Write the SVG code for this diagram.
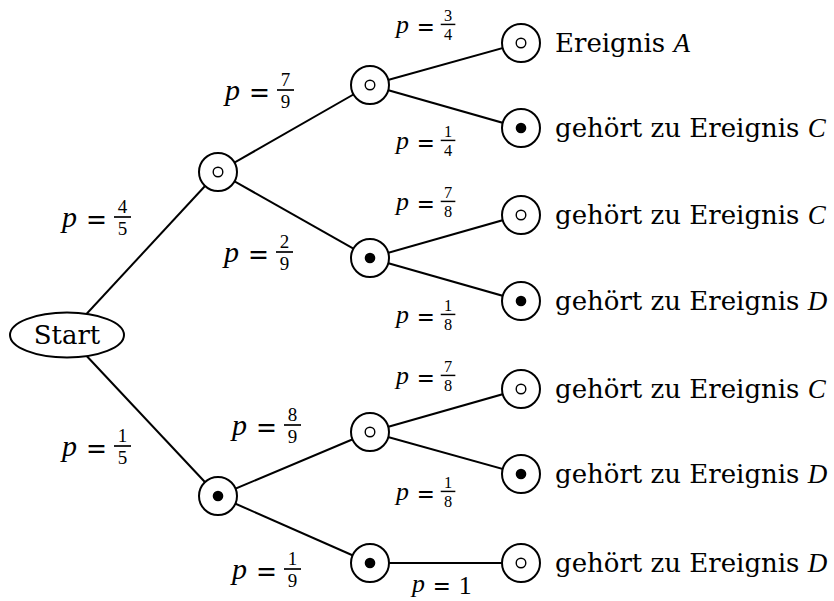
<svg xmlns="http://www.w3.org/2000/svg" width="834" height="601" viewBox="0 0 834 601">
  <defs>
    <style>
      .edge { stroke: #000; stroke-width: 2; fill: none; }
      .node { stroke: #000; stroke-width: 2; fill: #fff; }
      .ring { stroke: #000; stroke-width: 1.4; fill: none; }
      .dot { fill: #000; }
      .txt { font-family: "DejaVu Serif", serif; font-size: 26px; fill: #000; }
      .mi { font-family: "Liberation Serif", serif; font-style: italic; font-size: 30px; fill: #000; }
      .eq { font-family: "DejaVu Serif", serif; font-size: 27px; fill: #000; }
      .fr { font-family: "Liberation Serif", serif; font-size: 19px; fill: #000; text-anchor: middle; }
      .bar { stroke: #000; stroke-width: 1.7; }
    </style>
    <!-- node glyphs: open (ring) and filled (dot) -->
    <g id="open">
      <circle class="node" r="19"/>
      <circle class="ring" r="4.8"/>
    </g>
    <g id="full">
      <circle class="node" r="19"/>
      <circle class="dot" r="5.3"/>
    </g>
  </defs>

  <!-- connectors -->
  <g id="edges">
    <line class="edge" x1="67" y1="335" x2="218" y2="172"/>
    <line class="edge" x1="67" y1="335" x2="218" y2="496"/>
    <line class="edge" x1="218" y1="172" x2="370" y2="85"/>
    <line class="edge" x1="218" y1="172" x2="370" y2="258"/>
    <line class="edge" x1="218" y1="496" x2="370" y2="432"/>
    <line class="edge" x1="218" y1="496" x2="370" y2="563"/>
    <line class="edge" x1="370" y1="85" x2="521" y2="43"/>
    <line class="edge" x1="370" y1="85" x2="521" y2="128"/>
    <line class="edge" x1="370" y1="258" x2="521" y2="215"/>
    <line class="edge" x1="370" y1="258" x2="521" y2="301"/>
    <line class="edge" x1="370" y1="432" x2="521" y2="389"/>
    <line class="edge" x1="370" y1="432" x2="521" y2="474"/>
    <line class="edge" x1="370" y1="563" x2="521" y2="563"/>
  </g>

  <!-- edge labels: p = fraction, drawn around the math axis -->
  <g id="labels">
    <g transform="translate(62,220)">
      <text class="mi" x="0" y="7">p</text><text class="eq" x="24" y="9" textLength="21" lengthAdjust="spacingAndGlyphs">=</text>
      <line class="bar" x1="52" y1="-3" x2="69" y2="-3"/>
      <text class="fr" x="60.5" y="-7.5">4</text><text class="fr" x="60.5" y="15">5</text>
    </g>
    <g transform="translate(62,449)">
      <text class="mi" x="0" y="7">p</text><text class="eq" x="24" y="9" textLength="21" lengthAdjust="spacingAndGlyphs">=</text>
      <line class="bar" x1="52" y1="-3" x2="69" y2="-3"/>
      <text class="fr" x="60.5" y="-7.5">1</text><text class="fr" x="60.5" y="15">5</text>
    </g>
    <g transform="translate(225,93)">
      <text class="mi" x="0" y="7">p</text><text class="eq" x="24" y="9" textLength="21" lengthAdjust="spacingAndGlyphs">=</text>
      <line class="bar" x1="52" y1="-3" x2="69" y2="-3"/>
      <text class="fr" x="60.5" y="-7.5">7</text><text class="fr" x="60.5" y="15">9</text>
    </g>
    <g transform="translate(224,255)">
      <text class="mi" x="0" y="7">p</text><text class="eq" x="24" y="9" textLength="21" lengthAdjust="spacingAndGlyphs">=</text>
      <line class="bar" x1="52" y1="-3" x2="69" y2="-3"/>
      <text class="fr" x="60.5" y="-7.5">2</text><text class="fr" x="60.5" y="15">9</text>
    </g>
    <g transform="translate(232,428)">
      <text class="mi" x="0" y="7">p</text><text class="eq" x="24" y="9" textLength="21" lengthAdjust="spacingAndGlyphs">=</text>
      <line class="bar" x1="52" y1="-3" x2="69" y2="-3"/>
      <text class="fr" x="60.5" y="-7.5">8</text><text class="fr" x="60.5" y="15">9</text>
    </g>
    <g transform="translate(232,572)">
      <text class="mi" x="0" y="7">p</text><text class="eq" x="24" y="9" textLength="21" lengthAdjust="spacingAndGlyphs">=</text>
      <line class="bar" x1="52" y1="-3" x2="69" y2="-3"/>
      <text class="fr" x="60.5" y="-7.5">1</text><text class="fr" x="60.5" y="15">9</text>
    </g>
    <g transform="translate(396,27) scale(0.86)">
      <text class="mi" x="0" y="7">p</text><text class="eq" x="24" y="9" textLength="21" lengthAdjust="spacingAndGlyphs">=</text>
      <line class="bar" x1="52" y1="-3" x2="69" y2="-3"/>
      <text class="fr" x="60.5" y="-7.5">3</text><text class="fr" x="60.5" y="15">4</text>
    </g>
    <g transform="translate(396,143) scale(0.86)">
      <text class="mi" x="0" y="7">p</text><text class="eq" x="24" y="9" textLength="21" lengthAdjust="spacingAndGlyphs">=</text>
      <line class="bar" x1="52" y1="-3" x2="69" y2="-3"/>
      <text class="fr" x="60.5" y="-7.5">1</text><text class="fr" x="60.5" y="15">4</text>
    </g>
    <g transform="translate(396,204) scale(0.86)">
      <text class="mi" x="0" y="7">p</text><text class="eq" x="24" y="9" textLength="21" lengthAdjust="spacingAndGlyphs">=</text>
      <line class="bar" x1="52" y1="-3" x2="69" y2="-3"/>
      <text class="fr" x="60.5" y="-7.5">7</text><text class="fr" x="60.5" y="15">8</text>
    </g>
    <g transform="translate(396,317) scale(0.86)">
      <text class="mi" x="0" y="7">p</text><text class="eq" x="24" y="9" textLength="21" lengthAdjust="spacingAndGlyphs">=</text>
      <line class="bar" x1="52" y1="-3" x2="69" y2="-3"/>
      <text class="fr" x="60.5" y="-7.5">1</text><text class="fr" x="60.5" y="15">8</text>
    </g>
    <g transform="translate(396,378) scale(0.86)">
      <text class="mi" x="0" y="7">p</text><text class="eq" x="24" y="9" textLength="21" lengthAdjust="spacingAndGlyphs">=</text>
      <line class="bar" x1="52" y1="-3" x2="69" y2="-3"/>
      <text class="fr" x="60.5" y="-7.5">7</text><text class="fr" x="60.5" y="15">8</text>
    </g>
    <g transform="translate(396,494) scale(0.86)">
      <text class="mi" x="0" y="7">p</text><text class="eq" x="24" y="9" textLength="21" lengthAdjust="spacingAndGlyphs">=</text>
      <line class="bar" x1="52" y1="-3" x2="69" y2="-3"/>
      <text class="fr" x="60.5" y="-7.5">1</text><text class="fr" x="60.5" y="15">8</text>
    </g>
    <g transform="translate(412,586) scale(0.86)">
      <text class="mi" x="0" y="7">p</text><text class="eq" x="24" y="9" textLength="21" lengthAdjust="spacingAndGlyphs">=</text>
      <text class="mi" x="62" y="9" style="font-style:normal;text-anchor:middle">1</text>
    </g>
  </g>

  <!-- root -->
  <g id="start">
    <ellipse class="node" cx="67" cy="335" rx="57" ry="22.5"/>
    <text class="txt" x="67" y="344" text-anchor="middle">Start</text>
  </g>

  <!-- first stage -->
  <g id="n1"><use href="#open" x="218" y="172"/></g>
  <g id="n2"><use href="#full" x="218" y="496"/></g>

  <!-- second stage -->
  <g id="n11"><use href="#open" x="370" y="85"/></g>
  <g id="n12"><use href="#full" x="370" y="258"/></g>
  <g id="n21"><use href="#open" x="370" y="432"/></g>
  <g id="n22"><use href="#full" x="370" y="563"/></g>

  <!-- outcomes -->
  <g id="n111"><use href="#open" x="521" y="43"/>
    <text class="txt" x="555" y="52">Ereignis <tspan class="mi" style="font-size:27px">A</tspan></text></g>
  <g id="n112"><use href="#full" x="521" y="128"/>
    <text class="txt" x="555" y="137">gehört zu Ereignis <tspan class="mi" style="font-size:27px">C</tspan></text></g>
  <g id="n121"><use href="#open" x="521" y="215"/>
    <text class="txt" x="555" y="224">gehört zu Ereignis <tspan class="mi" style="font-size:27px">C</tspan></text></g>
  <g id="n122"><use href="#full" x="521" y="301"/>
    <text class="txt" x="555" y="310">gehört zu Ereignis <tspan class="mi" style="font-size:27px">D</tspan></text></g>
  <g id="n211"><use href="#open" x="521" y="389"/>
    <text class="txt" x="555" y="398">gehört zu Ereignis <tspan class="mi" style="font-size:27px">C</tspan></text></g>
  <g id="n212"><use href="#full" x="521" y="474"/>
    <text class="txt" x="555" y="483">gehört zu Ereignis <tspan class="mi" style="font-size:27px">D</tspan></text></g>
  <g id="n221"><use href="#open" x="521" y="563"/>
    <text class="txt" x="555" y="572">gehört zu Ereignis <tspan class="mi" style="font-size:27px">D</tspan></text></g>
</svg>
